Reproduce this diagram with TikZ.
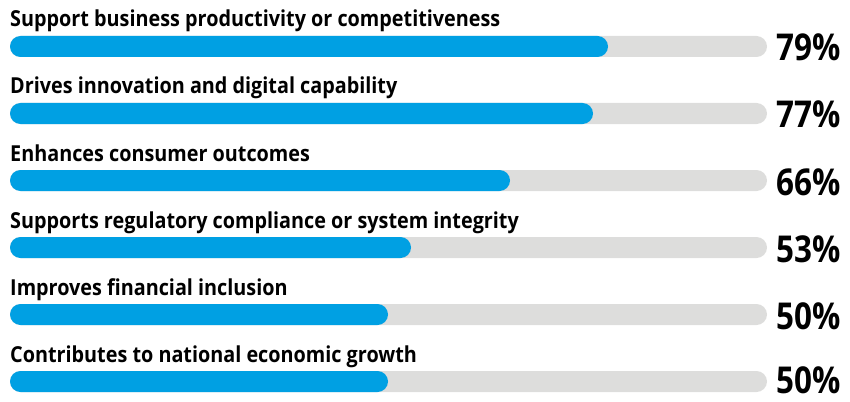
\documentclass[tikz,border=0pt]{standalone}
\usepackage{fontspec}
\setmainfont{Open Sans}[FakeStretch=0.9]
\newfontfamily\pctfont{Open Sans}[FakeStretch=0.85]
\definecolor{barblue}{RGB}{0,160,227}
\definecolor{trackgray}{RGB}{221,221,220}

\begin{document}
\begin{tikzpicture}[x=1pt, y=-1pt,
        track/.style={fill=trackgray, rounded corners=10.5pt},
        bar/.style={fill=barblue, rounded corners=10.5pt},
        lbl/.style={anchor=base west, inner sep=0pt, font=\bfseries\fontsize{22}{26}\selectfont},
        pct/.style={anchor=base west, inner sep=0pt, font=\pctfont\bfseries\fontsize{37}{40}\selectfont}]
        \useasboundingbox (0,0) rectangle (850,401);

        % tracks
        \fill[track] (10,36) rectangle (767,57);
        \fill[track] (10,103) rectangle (767,124);
        \fill[track] (10,170) rectangle (767,191);
        \fill[track] (10,237) rectangle (767,258);
        \fill[track] (10,304) rectangle (767,325);
        \fill[track] (10,371) rectangle (767,392);

        % values
        \fill[bar] (10,36) rectangle (608,57);
        \fill[bar] (10,103) rectangle (593,124);
        \fill[bar] (10,170) rectangle (510,191);
        \fill[bar] (10,237) rectangle (411,258);
        \fill[bar] (10,304) rectangle (388,325);
        \fill[bar] (10,371) rectangle (388,392);

        % labels
        \node[lbl] (prod) at (10,27) {Support business productivity or competitiveness};
        \node[lbl] (innov) at (10,94) {Drives innovation and digital capability};
        \node[lbl] (cons) at (10,161) {Enhances consumer outcomes};
        \node[lbl] (reg) at (10,228) {Supports regulatory compliance or system integrity};
        \node[lbl] (incl) at (10,295) {Improves financial inclusion};
        \node[lbl] (growth) at (10,362) {Contributes to national economic growth};

        \node[pct] (prodp) at (776,61) {79\%};
        \node[pct] (innovp) at (776,128) {77\%};
        \node[pct] (consp) at (776,195) {66\%};
        \node[pct] (regp) at (776,262) {53\%};
        \node[pct] (inclp) at (776,329) {50\%};
        \node[pct] (growthp) at (776,393) {50\%};
\end{tikzpicture}
\end{document}
